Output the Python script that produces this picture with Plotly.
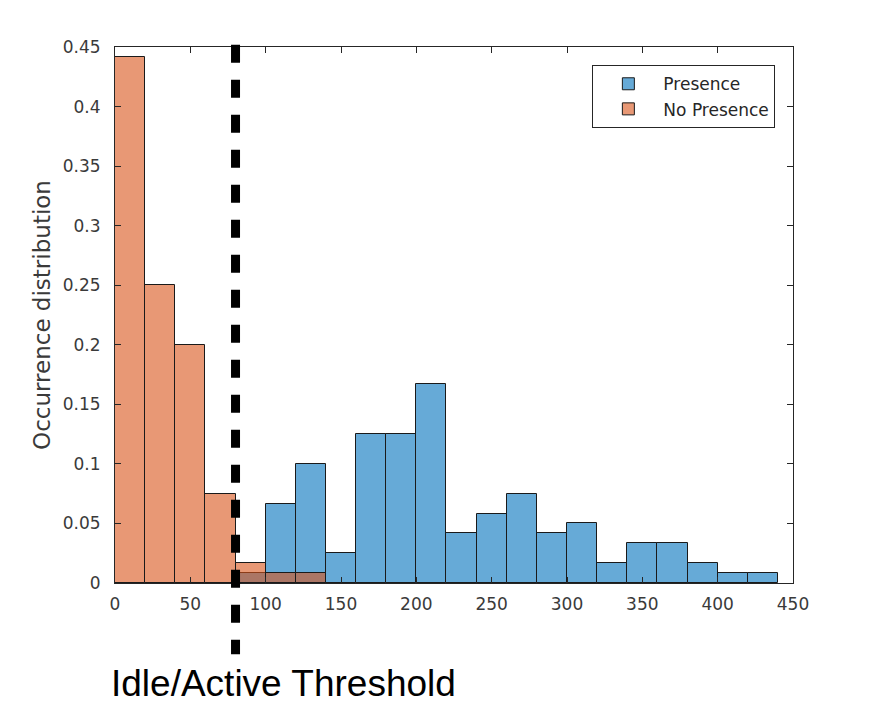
import plotly.graph_objects as go

bin_left = [0, 20, 40, 60, 80, 100, 120, 140, 160, 180, 200, 220, 240, 260, 280, 300, 320, 340, 360, 380, 400, 420]
presence = [0, 0, 0, 0, 0.0083, 0.0667, 0.1, 0.025, 0.125, 0.125, 0.1667, 0.0417, 0.0583, 0.075, 0.0417, 0.05, 0.0167, 0.0333, 0.0333, 0.0167, 0.0083, 0.0083]
no_presence = [0.4417, 0.25, 0.2, 0.075, 0.0167, 0.0083, 0.0083, 0, 0, 0, 0, 0, 0, 0, 0, 0, 0, 0, 0, 0, 0, 0]
bin_width = 20
threshold = 80
x_ticks = [0, 50, 100, 150, 200, 250, 300, 350, 400, 450]
y_ticks = [0, 0.05, 0.1, 0.15, 0.2, 0.25, 0.3, 0.35, 0.4, 0.45]
y_tick_text = ["0", "0.05", "0.1", "0.15", "0.2", "0.25", "0.3", "0.35", "0.4", "0.45"]


def nz(vals):
    return [v if v > 0 else None for v in vals]


fig = go.Figure()
fig.add_trace(go.Bar(
    x=bin_left, y=nz(presence), width=bin_width, offset=0, name="Presence",
    marker=dict(color="rgba(0,114,189,0.6)", line=dict(color="#1a1a1a", width=1)),
))
fig.add_trace(go.Bar(
    x=bin_left, y=nz(no_presence), width=bin_width, offset=0, name="No Presence",
    marker=dict(color="rgba(217,83,25,0.6)", line=dict(color="#1a1a1a", width=1)),
))

fig.add_shape(type="line", xref="x", yref="paper", x0=threshold, x1=threshold,
              y0=1.004, y1=-0.133, line=dict(color="black", width=9, dash="18px,17px"))

fig.add_annotation(text="Idle/Active Threshold", xref="paper", yref="paper",
                   x=-0.009, y=-0.188, xanchor="left", yanchor="middle", showarrow=False,
                   font=dict(family="Liberation Sans, Arial", size=37, color="black"))

axis_common = dict(showline=True, linecolor="#262626", linewidth=1, mirror="allticks",
                   ticks="inside", ticklen=6, tickcolor="#262626", showgrid=False, zeroline=False,
                   tickfont=dict(family="DejaVu Sans", size=17, color="#3a3a3a"))

fig.update_layout(
    width=875, height=713,
    margin=dict(l=115, r=82, t=47, b=130),
    paper_bgcolor="white", plot_bgcolor="white",
    barmode="overlay", bargap=0,
    showlegend=True,
    legend=dict(x=0.974, y=0.966, xanchor="right", yanchor="top",
                bordercolor="#262626", borderwidth=1, bgcolor="white",
                font=dict(family="DejaVu Sans", size=17, color="#262626"),
                tracegroupgap=0, itemwidth=60),
    xaxis=dict(range=[0, 450], tickvals=x_ticks, ticklabelstandoff=6, **axis_common),
    yaxis=dict(range=[0, 0.45], tickvals=y_ticks, ticktext=y_tick_text, ticklabelstandoff=10,
               title=dict(text="Occurrence distribution", standoff=5,
                          font=dict(family="DejaVu Sans", size=23, color="#3a3a3a")),
               **axis_common),
)

fig.write_html("out.html")
